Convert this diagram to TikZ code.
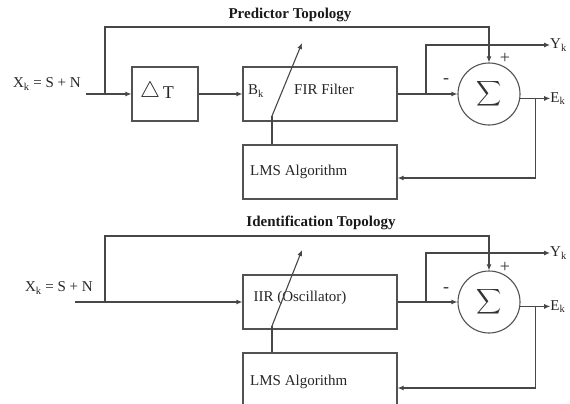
\documentclass[tikz,border=0pt]{standalone}
\usepackage{graphicx}
\usepackage{fontspec}
\setmainfont{Liberation Serif}
\usetikzlibrary{arrows.meta,calc}
\begin{document}
\begin{tikzpicture}[x=1pt,y=-1pt,
  ln/.style={draw=black!72, line width=1.1pt},
  arr/.style={ln,-{Latex[length=6pt,width=5pt]}},
  blk/.style={draw=black!68, line width=1.1pt, rectangle, minimum width=154pt, minimum height=54pt, inner sep=0pt},
  txt/.style={font=\fontsize{15}{17}\selectfont, text=black!85, inner sep=0pt},
  pm/.style={font=\fontsize{18}{18}\selectfont, text=black!80, inner sep=0pt},
  ttl/.style={font=\bfseries\fontsize{15}{17}\selectfont, text=black!90, inner sep=0pt},
  sumc/.style={circle, draw=black!68, line width=1.1pt, minimum size=62pt, inner sep=0pt},
  sig/.style={text=black!80, inner sep=0pt}]
\useasboundingbox (0,0) rectangle (570,404);
% ---------------- Predictor topology ----------------
\node[ttl] (t1) at (290,15) {Predictor Topology};
\node[txt, anchor=east] (x1) at (81,84) {X\textsubscript{k} = S + N};
\coordinate (in1) at (86,94);
\coordinate (br1) at (105,94);
\coordinate (tp1) at (105,27);
\node[blk, minimum width=66pt] (dt) at (165,94) {};
\node[txt, font=\fontsize{18}{18}\selectfont] (dtt) at (157,92) {\raisebox{0.5pt}{\scalebox{1.3}{$\triangle$}}\,T};
\node[blk] (fir) at (320,94) {};
\node[txt] (bk) at (256,91) {B\textsubscript{k}};
\node[txt] (firt) at (324,89) {FIR Filter};
\node[blk] (lms) at (320,172) {};
\node[txt, anchor=west] (lmst) at (250,172) {LMS Algorithm};
\node[sumc] (sum) at (489,94) {};
\node[sig] (sg1) at (sum) {\scalebox{1.75}{$\displaystyle\sum$}};
\node[pm] (m1) at (446,81) {-};
\node[pm] (p1) at (505,58) {+};
\coordinate (yb1) at (426,94);
\coordinate (yt1) at (426,45);
\node[txt, anchor=west] (yk1) at (550,45) {Y\textsubscript{k}};
\node[txt, anchor=west] (ek1) at ($(sum.-8)+(30,0)$) {E\textsubscript{k}};
\coordinate (eb1) at ($(sum.-8)+(15,0)$);
\coordinate (d1a) at (272,116);
\coordinate (d1b) at (302,43);
\draw[ln] (in1) -- (br1);
\draw[arr] (br1) -- (dt.west);
\draw[arr] (dt.east) -- (fir.west);
\draw[arr] (br1) -- (tp1) -| (sum.north);
\draw[arr] (fir.east) -- (sum.west);
\draw[arr] (yb1) -- (yt1) -- (yk1.west);
\draw[arr] (sum.-8) -- (ek1.west);
\draw[arr] (eb1) |- ([yshift=-6pt]lms.east);
\draw[ln] (d1a |- lms.north) -- (d1a);
\draw[arr] (d1a) -- (d1b);
% ---------------- Identification topology ----------------
\node[ttl] (t2) at (321,223) {Identification Topology};
\node[txt, anchor=east] (x2) at (93,288) {X\textsubscript{k} = S + N};
\coordinate (in2) at (75,302);
\coordinate (br2) at (105,302);
\coordinate (tp2) at (105,236);
\node[blk] (iir) at (320,302) {};
\node[txt] (iirt) at (300,298) {IIR (Oscillator)};
\node[blk, minimum height=70pt] (lms2) at (320,388) {};
\node[txt, anchor=west] (lms2t) at (250,382) {LMS Algorithm};
\node[sumc] (sum2) at (489,302) {};
\node[sig] (sg2) at (sum2) {\scalebox{1.75}{$\displaystyle\sum$}};
\node[pm] (m2) at (446,290) {-};
\node[pm] (p2) at (505,267) {+};
\coordinate (yb2) at (426,302);
\coordinate (yt2) at (426,253);
\node[txt, anchor=west] (yk2) at (550,253) {Y\textsubscript{k}};
\node[txt, anchor=west] (ek2) at ($(sum2.-8)+(30,0)$) {E\textsubscript{k}};
\coordinate (eb2) at ($(sum2.-8)+(15,0)$);
\coordinate (d2a) at (272,326);
\coordinate (d2b) at (302,250);
\draw[arr] (in2) -- (iir.west);
\draw[arr] (br2) -- (tp2) -| (sum2.north);
\draw[arr] (iir.east) -- (sum2.west);
\draw[arr] (yb2) -- (yt2) -- (yk2.west);
\draw[arr] (sum2.-8) -- (ek2.west);
\draw[arr] (eb2) |- (lms2.east);
\draw[ln] (d2a |- lms2.north) -- (d2a);
\draw[arr] (d2a) -- (d2b);
\end{tikzpicture}
\end{document}
